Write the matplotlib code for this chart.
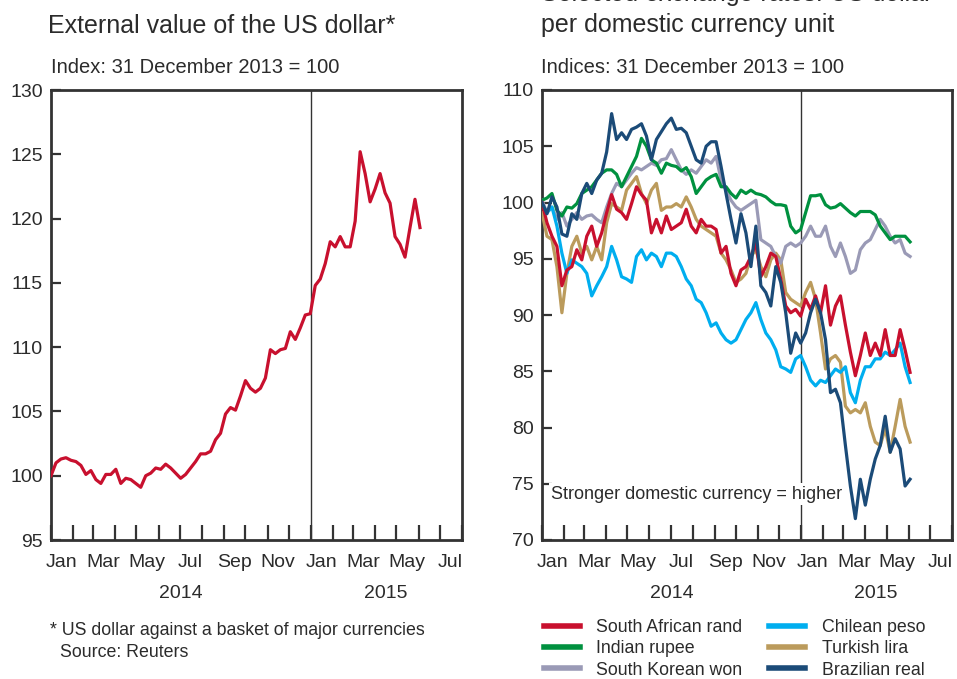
import matplotlib
matplotlib.use("Agg")
import matplotlib.dates as mdates
import matplotlib.pyplot as plt
import matplotlib.transforms as mtransforms
import pandas as pd
from matplotlib.lines import Line2D

plt.rcParams["font.family"] = ["Liberation Sans", "DejaVu Sans"]

TEXT = "#2b2b2b"
SPINE = "#333333"

# Weekly observations, 31 Dec 2013 = 100
weeks = pd.date_range("2014-01-01", periods=75, freq="7D")

usd_index = [
    100.0, 101.0, 101.3, 101.4, 101.2, 101.1, 100.8, 100.1, 100.4, 99.7,
    99.4, 100.1, 100.1, 100.5, 99.4, 99.8, 99.7, 99.4, 99.1, 100.0,
    100.2, 100.6, 100.5, 100.9, 100.6, 100.2, 99.8, 100.1, 100.6, 101.1,
    101.7, 101.7, 101.9, 102.8, 103.3, 104.8, 105.3, 105.1, 106.2, 107.4,
    106.8, 106.5, 106.8, 107.6, 109.8, 109.5, 109.8, 109.9, 111.2, 110.6,
    111.5, 112.5, 112.6, 114.8, 115.3, 116.5, 118.2, 117.8, 118.6, 117.8,
    117.8, 119.8, 125.2, 123.5, 121.3, 122.3, 123.5, 122.0, 121.2, 118.6,
    118.0, 117.0, 119.3, 121.5, 119.3,
]

zar = [
    100.0, 98.2, 97.0, 96.1, 92.6, 94.0, 94.3, 95.8, 94.9, 97.0,
    97.9, 96.1, 97.3, 99.1, 100.7, 99.4, 99.1, 98.5, 99.9, 101.4,
    100.7, 100.2, 97.3, 98.5, 97.3, 98.8, 97.6, 97.9, 98.2, 99.4,
    97.9, 97.3, 98.5, 97.9, 97.9, 97.6, 95.5, 96.1, 93.7, 92.6,
    94.0, 94.3, 95.2, 96.4, 93.4, 94.3, 95.5, 95.2, 93.2, 90.8,
    90.2, 90.5, 89.9, 91.4, 90.5, 91.7, 90.2, 92.6, 89.1, 90.8,
    91.7, 89.1, 86.7, 84.6, 86.4, 88.4, 86.4, 87.5, 86.4, 88.7,
    86.4, 86.4, 88.7, 86.9, 84.9,
]

inr = [
    100.2, 100.4, 100.8, 99.3, 98.8, 99.6, 99.5, 99.9, 100.8, 101.1,
    101.4, 102.0, 102.6, 102.9, 102.9, 102.5, 101.4, 102.3, 103.2, 104.1,
    105.7, 105.0, 103.8, 103.5, 102.6, 103.5, 103.3, 103.2, 102.8, 103.1,
    102.3, 100.8, 101.4, 102.0, 102.3, 102.5, 101.4, 101.4, 100.8, 100.4,
    101.1, 100.8, 101.1, 100.8, 100.7, 100.5, 100.1, 99.8, 99.8, 99.7,
    97.9, 97.3, 97.6, 99.1, 100.6, 100.6, 100.7, 99.8, 99.5, 99.6,
    99.9, 99.5, 99.1, 98.8, 99.2, 99.2, 99.2, 98.9, 97.9, 97.3,
    96.7, 97.0, 97.0, 97.0, 96.5,
]

krw = [
    100.2, 99.1, 99.6, 98.5, 99.1, 97.9, 98.5, 99.1, 98.5, 98.8,
    98.9, 98.5, 98.2, 99.6, 100.8, 101.7, 101.4, 102.0, 102.6, 103.1,
    102.9, 103.2, 103.5, 103.3, 103.8, 103.9, 104.7, 103.8, 102.9, 102.5,
    102.9, 102.6, 103.2, 103.8, 103.5, 104.1, 102.0, 101.1, 100.2, 99.6,
    99.3, 99.6, 99.9, 100.2, 96.7, 96.4, 96.1, 95.2, 94.6, 96.1,
    96.4, 96.1, 96.4, 97.0, 97.9, 97.0, 97.0, 97.9, 96.1, 95.2,
    96.4, 95.2, 93.7, 94.0, 95.8, 96.4, 96.7, 97.6, 98.5, 97.9,
    97.0, 96.4, 96.7, 95.5, 95.2,
]

clp = [
    99.9, 99.1, 99.6, 97.9, 95.5, 93.7, 94.9, 94.6, 94.3, 93.7,
    91.7, 92.6, 93.4, 94.3, 96.1, 94.9, 93.4, 93.2, 92.9, 95.2,
    95.8, 94.9, 95.5, 95.2, 94.3, 95.5, 95.5, 95.2, 94.3, 93.2,
    92.6, 91.4, 91.1, 90.2, 89.0, 89.3, 88.4, 87.8, 87.5, 87.8,
    88.7, 89.6, 90.2, 91.1, 89.6, 88.4, 87.8, 86.9, 85.4, 85.2,
    84.9, 86.1, 86.4, 85.4, 84.2, 83.7, 84.2, 84.0, 84.6, 85.2,
    84.9, 85.4, 83.1, 82.2, 84.2, 85.4, 85.4, 86.1, 86.1, 86.7,
    86.4, 86.9, 87.5, 85.4, 84.0,
]

try_ = [
    99.1, 97.0, 96.7, 94.3, 90.2, 93.7, 96.1, 97.0, 95.5, 96.1,
    94.9, 96.1, 94.9, 98.2, 99.9, 99.6, 99.3, 101.1, 101.7, 102.3,
    100.8, 99.9, 101.1, 101.7, 99.3, 99.6, 99.6, 99.9, 99.6, 100.5,
    99.6, 98.5, 97.9, 97.6, 97.3, 97.0, 95.5, 94.9, 94.0, 92.9,
    93.2, 93.7, 95.2, 95.8, 94.3, 93.4, 94.9, 95.5, 94.9, 92.0,
    91.4, 91.1, 90.8, 92.0, 92.9, 91.4, 88.4, 85.2, 86.1, 86.4,
    85.8, 81.9, 81.3, 81.6, 81.3, 82.2, 80.1, 78.7, 78.4, 79.9,
    77.8, 80.1, 82.5, 80.1, 78.7,
]

brl = [
    100.0, 99.0, 100.5, 99.6, 97.2, 97.0, 99.0, 98.5, 100.8, 101.7,
    100.8, 102.0, 102.6, 104.5, 107.9, 105.6, 106.2, 105.6, 106.5, 106.7,
    107.0, 105.9, 103.8, 105.6, 106.3, 107.0, 107.5, 106.5, 106.6, 106.2,
    105.0, 103.8, 103.5, 105.0, 105.4, 105.4, 103.2, 100.8, 98.5, 96.4,
    99.0, 97.3, 94.3, 97.9, 92.6, 92.0, 90.8, 94.3, 92.9, 90.2,
    86.6, 88.4, 87.5, 88.4, 90.2, 91.4, 90.2, 87.8, 83.1, 83.4,
    82.2, 78.4, 74.8, 71.9, 75.4, 73.1, 75.4, 77.2, 78.4, 81.0,
    77.8, 79.0, 78.1, 74.8, 75.4,
]

fx_labels = ["South African rand", "Indian rupee", "South Korean won",
             "Chilean peso", "Turkish lira", "Brazilian real"]
fx_colors = ["#c8102e", "#00913f", "#9a9ab6", "#00aeef", "#bb9b5c", "#1b4b78"]
fx_series = [zar, inr, krw, clp, try_, brl]
draw_order = [4, 2, 1, 3, 0, 5]

x_start = pd.Timestamp("2014-01-01")
x_end = pd.Timestamp("2015-08-01")
year_break = pd.Timestamp("2015-01-01")

W, H = 957, 679
fig = plt.figure(figsize=(W / 100, H / 100), dpi=100)
ax_l = fig.add_axes([51 / W, 1 - 540 / H, 411 / W, 450 / H])
ax_r = fig.add_axes([542 / W, 1 - 540 / H, 410 / W, 450 / H])


def style_axis(ax, ylim):
    ax.set_xlim(x_start, x_end)
    ax.set_ylim(*ylim)
    ax.set_yticks(range(ylim[0], ylim[1] + 1, 5))
    for s in ax.spines.values():
        s.set_linewidth(2.0)
        s.set_color(SPINE)
    ax.axvline(year_break, color=SPINE, lw=1.0, zorder=1)
    # month boundary ticks, labels sit in the middle of every other month
    ax.xaxis.set_major_locator(mdates.MonthLocator())
    ax.xaxis.set_major_formatter(plt.NullFormatter())
    ax.xaxis.set_minor_locator(mdates.MonthLocator(bymonth=[1, 3, 5, 7, 9, 11], bymonthday=16))
    ax.xaxis.set_minor_formatter(mdates.DateFormatter("%b"))
    ax.tick_params(axis="x", which="major", direction="in", length=11, width=1.6, color=SPINE)
    ax.tick_params(axis="x", which="minor", length=0, pad=10, labelsize=14, labelcolor=TEXT)
    ax.tick_params(axis="y", direction="in", length=7.5, width=1.6, color=SPINE,
                   pad=6, labelsize=14, labelcolor=TEXT)
    trans = mtransforms.blended_transform_factory(ax.transData, ax.transAxes)
    ax.text(pd.Timestamp("2014-07-02"), -0.118, "2014", transform=trans,
            ha="center", va="center", fontsize=14, color=TEXT)
    ax.text(pd.Timestamp("2015-04-16"), -0.118, "2015", transform=trans,
            ha="center", va="center", fontsize=14, color=TEXT)


style_axis(ax_l, (95, 130))
style_axis(ax_r, (70, 110))

ax_l.plot(weeks, usd_index, color="#c8102e", lw=2.3, zorder=3)

for i in draw_order:
    ax_r.plot(weeks, fx_series[i], color=fx_colors[i], lw=2.3, zorder=3)

ax_r.text(9 / 410, 0.102, "Stronger domestic currency = higher", transform=ax_r.transAxes,
          ha="left", va="center", fontsize=13, color=TEXT, zorder=4,
          bbox=dict(facecolor="white", edgecolor="none", pad=1.5))

# titles and unit lines
fig.text(48 / W, 1 - 33 / H, "External value of the US dollar*", fontsize=18,
         color=TEXT, ha="left", va="baseline")
fig.text(51 / W, 1 - 73 / H, "Index: 31 December 2013 = 100", fontsize=14.5,
         color=TEXT, ha="left", va="baseline")
fig.text(541 / W, 1 - 1 / H, "Selected exchange rates: US dollar", fontsize=18,
         color=TEXT, ha="left", va="baseline")
fig.text(541 / W, 1 - 32 / H, "per domestic currency unit", fontsize=18,
         color=TEXT, ha="left", va="baseline")
fig.text(541 / W, 1 - 73 / H, "Indices: 31 December 2013 = 100", fontsize=14.5,
         color=TEXT, ha="left", va="baseline")

# footnote
fig.text(50 / W, 1 - 635 / H, "* US dollar against a basket of major currencies",
         fontsize=12.8, color=TEXT, ha="left", va="baseline")
fig.text(60 / W, 1 - 657 / H, "Source: Reuters",
         fontsize=12.8, color=TEXT, ha="left", va="baseline")

# legend below the right panel, filled column by column
handles = [Line2D([], [], color=c, lw=4) for c in fx_colors]
fig.legend(handles, fx_labels, ncol=2, loc="upper left",
           bbox_to_anchor=(544 / W, 1 - 619 / H), frameon=False,
           fontsize=12.8, handlelength=2.0, handletextpad=0.95, columnspacing=1.5,
           labelspacing=0.24, borderaxespad=0, borderpad=0, labelcolor=TEXT)

fig.savefig("out.png", dpi=100)
